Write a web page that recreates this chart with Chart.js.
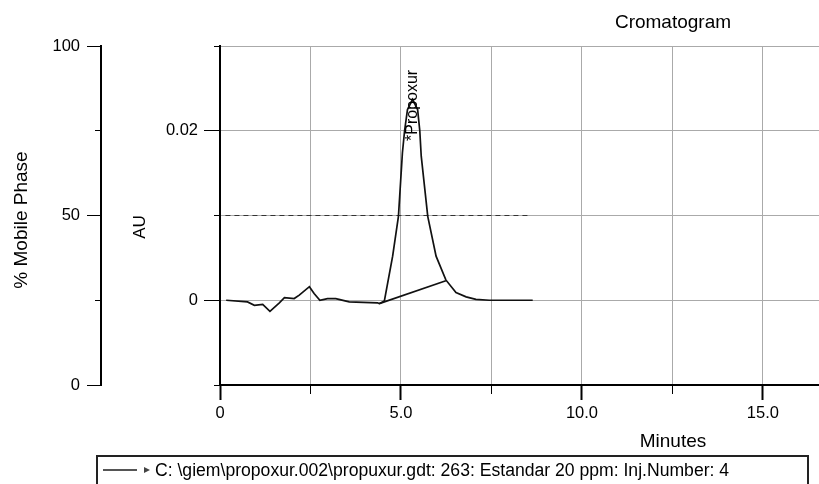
<!DOCTYPE html>
<html>
<head>
<meta charset="utf-8">
<script src="https://cdn.jsdelivr.net/npm/chart.js@4"></script>
<style>
  html, body { margin: 0; padding: 0; background: #fff; overflow: hidden; }
  #wrap { position: relative; width: 819px; height: 484px; }
</style>
</head>
<body>
<div id="wrap"><canvas id="myChart" width="819" height="484"></canvas></div>
<script>
// chromatogram trace (minutes / AU)
const traceTime = [0.17, 0.76, 0.95, 1.18, 1.38, 1.64, 1.78, 2.05, 2.19, 2.47, 2.60, 2.76, 2.97, 3.20, 3.57, 4.35, 4.40, 4.54,
  4.77, 4.93, 5.04, 5.10, 5.18, 5.32, 5.46, 5.52, 5.56, 5.74, 5.97, 6.24, 6.52, 6.80, 7.07, 7.44, 8.64];
const traceAU = [0, -0.0002, -0.0006, -0.0005, -0.0013, -0.0003, 0.0003, 0.0002, 0.0006, 0.0016, 0.0008, 0.0, 0.0002, 0.0002, -0.0002, -0.0003, -0.0004, -0.0001,
  0.0052, 0.0099, 0.0174, 0.0200, 0.0225, 0.0237, 0.0225, 0.0200, 0.0170, 0.0099, 0.0052, 0.0024, 0.0009, 0.0004, 0.0001, 0.0, 0.0];

// integration baseline under the peak
const baseTime = [4.40, 6.24];
const baseAU = [-0.0004, 0.0023];

// mobile phase program (dashed)
const mpTime = [0.15, 8.6];
const mpPercent = [50, 50];

// peak label
const peakName = "*Propoxur";
const peakTime = 5.32;
const peakAU = 0.0237;

// axes
const xTicks = [0, 2.5, 5, 7.5, 10, 12.5, 15];
const xLabels = ["0", "", "5.0", "", "10.0", "", "15.0"];
const auTicks = [-0.01, 0, 0.01, 0.02, 0.03];
const auLabels = ["", "0", "", "0.02", ""];
const mpTicks = [0, 25, 50, 75, 100];
const mpLabels = ["0", "", "50", "", "100"];

const chartTitle = "Cromatogram";
const xTitle = "Minutes";
const auTitle = "AU";
const mpTitle = "% Mobile Phase";
const legendText = "C: \\giem\\propoxur.002\\propuxur.gdt: 263: Estandar 20 ppm: Inj.Number: 4";

const FONT = "'Liberation Sans', Arial, sans-serif";

function toPoints(xs, ys) {
  return xs.map((v, i) => ({ x: v, y: ys[i] }));
}
function idx(arr, v) {
  return arr.findIndex((a) => Math.abs(a - v) < 1e-9);
}

// titles, peak label, legend box
const textPlugin = {
  id: "texts",
  afterDraw(chart) {
    const ctx = chart.ctx;
    const sx = chart.scales.x;
    const sy = chart.scales.y;
    ctx.save();
    ctx.fillStyle = "#000";
    ctx.textAlign = "center";
    ctx.textBaseline = "middle";
    ctx.font = "19px " + FONT;
    ctx.fillText(chartTitle, 673, 23);
    ctx.fillText(xTitle, 673, 442);

    ctx.save();
    ctx.translate(22, 220);
    ctx.rotate(-Math.PI / 2);
    ctx.fillText(mpTitle, 0, 0);
    ctx.restore();

    ctx.save();
    ctx.translate(140, 227);
    ctx.rotate(-Math.PI / 2);
    ctx.font = "17px " + FONT;
    ctx.fillText(auTitle, 0, 0);
    ctx.restore();

    // peak name, rotated
    const px = sx.getPixelForValue(peakTime);
    const py = sy.getPixelForValue(peakAU);
    ctx.save();
    ctx.translate(px, py + 6);
    ctx.rotate(-Math.PI / 2);
    ctx.font = "16px " + FONT;
    ctx.fillText(peakName, 0, 0);
    ctx.restore();

    // legend box
    ctx.fillStyle = "#fff";
    ctx.fillRect(97, 456, 711, 40);
    ctx.strokeStyle = "#222";
    ctx.lineWidth = 2;
    ctx.strokeRect(97, 456, 711, 40);
    ctx.strokeStyle = "#555";
    ctx.beginPath();
    ctx.moveTo(103, 470);
    ctx.lineTo(137, 470);
    ctx.stroke();
    ctx.fillStyle = "#444";
    ctx.beginPath();
    ctx.moveTo(144, 467);
    ctx.lineTo(150, 470);
    ctx.lineTo(144, 473);
    ctx.closePath();
    ctx.fill();
    ctx.fillStyle = "#000";
    ctx.textAlign = "left";
    ctx.font = "17.6px " + FONT;
    ctx.fillText(legendText, 155, 471);
    ctx.restore();
  },
};

const ctx = document.getElementById("myChart").getContext("2d");
const myChart = new Chart(ctx, {
  type: "line",
  data: {
    datasets: [
      {
        data: toPoints(traceTime, traceAU),
        borderColor: "#111",
        borderWidth: 1.7,
        pointRadius: 0,
        fill: false,
        xAxisID: "x",
        yAxisID: "y",
      },
      {
        data: toPoints(baseTime, baseAU),
        borderColor: "#111",
        borderWidth: 1.7,
        pointRadius: 0,
        fill: false,
        xAxisID: "x",
        yAxisID: "y",
      },
      {
        data: toPoints(mpTime, mpPercent),
        borderColor: "#333",
        borderWidth: 1,
        borderDash: [5, 4],
        pointRadius: 0,
        fill: false,
        xAxisID: "x",
        yAxisID: "yMP",
      },
    ],
  },
  options: {
    responsive: false,
    animation: false,
    layout: { padding: { left: 0, right: 0, top: 46, bottom: 0 } },
    plugins: {
      legend: { display: false },
      tooltip: { enabled: false },
    },
    scales: {
      x: {
        type: "linear",
        position: "bottom",
        min: 0,
        max: 16.55,
        afterBuildTicks: (s) => { s.ticks = xTicks.map((v) => ({ value: v })); },
        afterFit: (s) => { s.height = 99; },
        border: { color: "#000", width: 2 },
        grid: {
          color: "#aaa",
          tickColor: "#000",
          tickLength: 15,
          tickWidth: (c) => (c.tick && xLabels[idx(xTicks, c.tick.value)] ? 2 : 1),
          tickBorderDash: (c) => (c.tick && xLabels[idx(xTicks, c.tick.value)] ? [] : [8, 100]),
        },
        ticks: {
          autoSkip: false,
          maxRotation: 0,
          padding: 4,
          color: "#000",
          font: { size: 16.5, family: FONT },
          callback: (v) => xLabels[idx(xTicks, v)] || "",
        },
      },
      y: {
        type: "linear",
        position: "left",
        min: -0.01,
        max: 0.03,
        weight: 0,
        afterBuildTicks: (s) => { s.ticks = auTicks.map((v) => ({ value: v })); },
        afterFit: (s) => { s.width = 119; },
        border: { color: "#000", width: 2 },
        grid: {
          color: "#aaa",
          tickColor: "#000",
          tickLength: 16,
          tickBorderDash: (c) => (c.tick && auLabels[idx(auTicks, c.tick.value)] ? [] : [0, 10, 6, 100]),
        },
        ticks: {
          padding: 6,
          color: "#000",
          font: { size: 16.5, family: FONT },
          callback: (v) => auLabels[idx(auTicks, v)] || "",
        },
      },
      yMP: {
        type: "linear",
        position: "left",
        min: 0,
        max: 100,
        weight: 1,
        afterBuildTicks: (s) => { s.ticks = mpTicks.map((v) => ({ value: v })); },
        afterFit: (s) => { s.width = 101; },
        border: { color: "#000", width: 2 },
        grid: {
          drawOnChartArea: false,
          tickColor: "#000",
          tickLength: 14,
          tickBorderDash: (c) => (c.tick && mpLabels[idx(mpTicks, c.tick.value)] ? [] : [0, 8, 6, 100]),
        },
        ticks: {
          padding: 7,
          color: "#000",
          font: { size: 16.5, family: FONT },
          callback: (v) => mpLabels[idx(mpTicks, v)] || "",
        },
      },
    },
  },
  plugins: [textPlugin],
});
</script>
</body>
</html>
